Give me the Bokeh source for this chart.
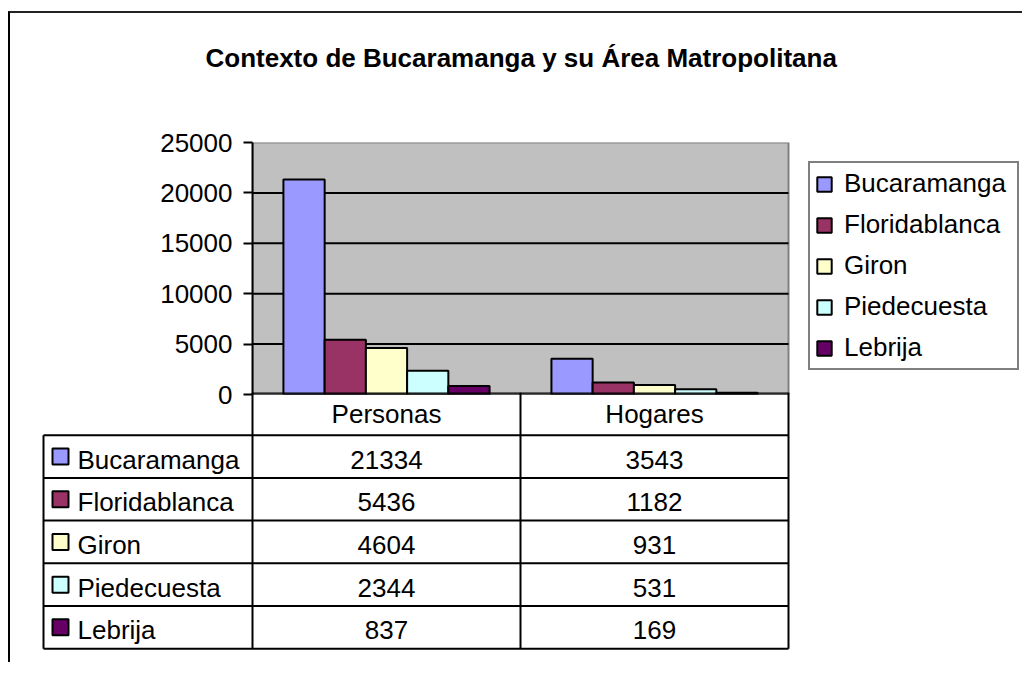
from bokeh.plotting import figure
from bokeh.models import (Range1d, FixedTicker, Legend, LegendItem,
                          ColumnDataSource, Title)
from bokeh.transform import dodge
from bokeh.layouts import column
from bokeh.core.properties import value
from bokeh.embed import file_html
from bokeh.resources import INLINE

# ---------------- data ----------------
title_text = "Contexto de Bucaramanga y su Área Matropolitana"
categories = ["Personas", "Hogares"]
series = ["Bucaramanga", "Floridablanca", "Giron", "Piedecuesta", "Lebrija"]
bucaramanga = [21334, 3543]
floridablanca = [5436, 1182]
giron = [4604, 931]
piedecuesta = [2344, 531]
lebrija = [837, 169]
colors = ["#9999FF", "#993366", "#FFFFCC", "#CCFFFF", "#660066"]
y_ticks = [0, 5000, 10000, 15000, 20000, 25000]
y_tick_labels = ["0", "5000", "10000", "15000", "20000", "25000"]

values = [bucaramanga, floridablanca, giron, piedecuesta, lebrija]

# ---------------- styling / layout ----------------
FONT = "Liberation Sans"
FS = "26px"
W = 1014
CAT_PX = 268          # pixels per category column
FRAME_LEFT = 242      # canvas px
TOP_H = 381
FRAME_TOP = 129
EXTRA = 16            # room under the frame for the "0" tick label
ROW_PX = 42.7
TABLE_H = 270
BAR_W = 1 / 6.5       # Excel gap width 150

n_cat = len(categories)
n_rows = len(series)
cat_pos = [k + 0.5 for k in range(n_cat)]
y_max = y_ticks[-1]

# ---------------- chart figure ----------------
p = figure(width=W, height=TOP_H + EXTRA,
           x_range=Range1d(0, (W - FRAME_LEFT) / CAT_PX),
           y_range=Range1d(0, y_max),
           x_axis_location=None,
           output_backend="svg", toolbar_location=None,
           min_border_left=FRAME_LEFT, min_border_right=0,
           min_border_top=FRAME_TOP, min_border_bottom=EXTRA)
p.frame_align = False
p.title_location = None
p.margin = (11, 0, 0, 8)
p.styles = {"border-top": "2px solid #222222", "border-left": "2px solid #000000"}

p.background_fill_color = "white"
p.border_fill_color = "white"
p.outline_line_color = None
p.xgrid.visible = False
p.ygrid.visible = False

# spacer between frame and title, then the title itself
p.add_layout(Title(text=" ", text_font_size="1px", standoff=62), "above")
p.add_layout(Title(text=title_text, text_font=FONT, text_font_size=FS,
                   text_font_style="bold", text_color="black", align="left",
                   offset=-47, standoff=10), "above")

# plot area (grey) and its horizontal gridlines
p.quad(left=[0], right=[n_cat], bottom=[0], top=[y_max], fill_color="#C0C0C0",
       line_color="#808080", line_width=2)
grid_y = y_ticks[1:-1]
p.segment(x0=[0] * len(grid_y), x1=[n_cat] * len(grid_y), y0=grid_y, y1=grid_y,
          line_color="black", line_width=2)

ax = p.yaxis[0]
ax.ticker = FixedTicker(ticks=y_ticks)
ax.major_label_overrides = {t: l for t, l in zip(y_ticks, y_tick_labels)}
ax.major_label_text_font = FONT
ax.major_label_text_font_size = FS
ax.major_label_text_color = "black"
ax.axis_line_color = "black"
ax.axis_line_width = 2
ax.major_tick_line_color = "black"
ax.major_tick_line_width = 2
ax.major_tick_out = 9
ax.major_tick_in = 0
ax.minor_tick_out = 0
ax.minor_tick_in = 0
ax.major_label_standoff = 11

items = []
for i, (name, vals, c) in enumerate(zip(series, values, colors)):
    src = ColumnDataSource(dict(x=cat_pos, top=vals))
    r = p.vbar(x=dodge("x", (i - 2) * BAR_W), top="top", bottom=0,
               width=BAR_W, source=src, fill_color=c, line_color="black", line_width=2)
    items.append(LegendItem(label=name, renderers=[r]))

# category axis baseline (top edge of the data table)
p.segment(x0=[0], x1=[n_cat], y0=[0], y1=[0], line_color="black", line_width=2)

legend = Legend(items=items, location=(556, 24), margin=0, padding=5, spacing=10,
                label_height=29, label_width=168, glyph_height=18, glyph_width=18,
                label_standoff=11,
                border_line_color="black", border_line_width=2,
                background_fill_color="white", background_fill_alpha=1.0,
                label_text_font=FONT, label_text_font_size=FS, label_text_color="black")
p.add_layout(legend)

# ---------------- data table figure ----------------
x0 = -FRAME_LEFT / CAT_PX
x1 = x0 + W / CAT_PX
t = figure(width=W, height=TABLE_H,
           x_range=Range1d(x0, x1), y_range=Range1d(-TABLE_H / ROW_PX, 0),
           x_axis_location=None, y_axis_location=None,
           output_backend="svg", toolbar_location=None, min_border=0)
t.frame_align = False
t.title_location = None
t.margin = (-EXTRA, 0, 0, 8)
t.styles = {"border-left": "2px solid #000000"}
t.outline_line_color = None
t.background_fill_color = None
t.border_fill_color = None
t.xgrid.visible = False
t.ygrid.visible = False

label_left = -(FRAME_LEFT - 33) / CAT_PX
square_x = label_left + 17 / CAT_PX
label_x = label_left + 34 / CAT_PX

# horizontal lines
hx0 = [0] + [label_left] * (n_rows + 1)
hx1 = [n_cat] * (n_rows + 2)
hy = [0] + [-(k + 1) for k in range(n_rows + 1)]
t.segment(x0=hx0, y0=hy, x1=hx1, y1=hy, line_color="black", line_width=2)
# vertical lines
vx = [k for k in range(n_cat + 1)] + [label_left]
vy0 = [0] * (n_cat + 1) + [-1]
vy1 = [-(n_rows + 1)] * (n_cat + 2)
t.segment(x0=vx, y0=vy0, x1=vx, y1=vy1, line_color="black", line_width=2)

t.text(x=cat_pos, y=[-0.5] * n_cat, text=categories, text_align="center",
       text_baseline="middle", text_font=value(FONT), text_font_size=FS, text_color="black")

for i, (name, vals, c) in enumerate(zip(series, values, colors)):
    yy = -(i + 1.5)
    t.rect(x=[square_x], y=[yy], width=16, height=16, width_units="screen",
           height_units="screen", fill_color=c, line_color="black", line_width=2)
    t.text(x=[label_x], y=[yy], text=[name], text_align="left", text_baseline="middle",
           y_offset=3, text_font=value(FONT), text_font_size=FS, text_color="black")
    t.text(x=cat_pos, y=[yy] * n_cat, text=[str(v) for v in vals], text_align="center",
           text_baseline="middle", y_offset=3, text_font=value(FONT), text_font_size=FS,
           text_color="black")

layout = column(p, t, spacing=0)
open("out.html", "w", encoding="utf-8").write(file_html(layout, INLINE))
